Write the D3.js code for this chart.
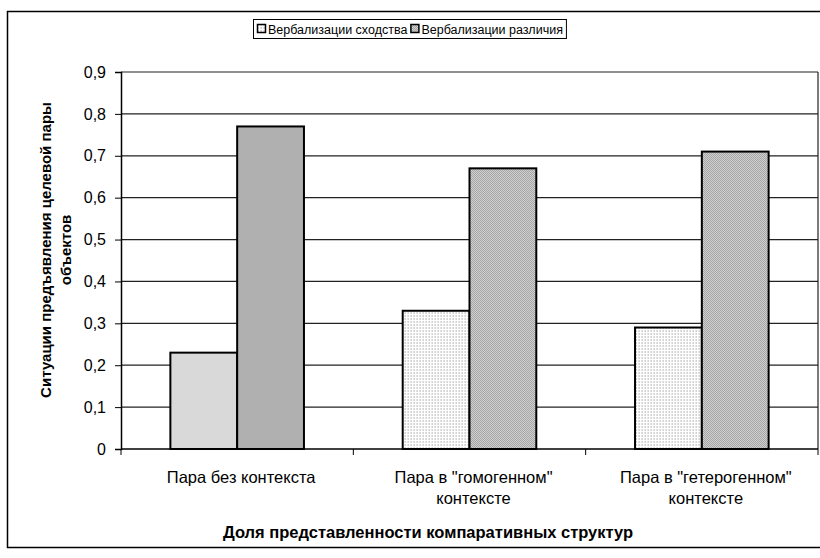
<!DOCTYPE html>
<html>
<head>
<meta charset="utf-8">
<script src="https://cdnjs.cloudflare.com/ajax/libs/d3/7.8.5/d3.min.js"></script>
<style>
body { margin: 0; background: #fff; }
text { font-family: "Liberation Sans", Arial, sans-serif; fill: #000; }
</style>
</head>
<body>
<div id="chart"></div>
<script>
var categories = [["Пара без контекста"], ["Пара в \"гомогенном\"", "контексте"], ["Пара в \"гетерогенном\"", "контексте"]];
var seriesNames = ["Вербализации сходства", "Вербализации различия"];
var similarity = [0.23, 0.33, 0.29];
var difference = [0.77, 0.67, 0.71];
var yTicks = [0, 0.1, 0.2, 0.3, 0.4, 0.5, 0.6, 0.7, 0.8, 0.9];
var yTitle = ["Ситуации предъявления целевой пары", "объектов"];
var xTitle = "Доля представленности компаративных структур";

var W = 820, H = 558;
var plot = {left: 121, right: 818, top: 72, bottom: 449};

var svg = d3.select("#chart").append("svg")
	.attr("width", W)
	.attr("height", H);

// patterns for the 2nd and 3rd groups
var defs = svg.append("defs");
var p1 = defs.append("pattern").attr("id", "dotsLight")
	.attr("patternUnits", "userSpaceOnUse").attr("width", 3).attr("height", 3);
p1.append("rect").attr("width", 3).attr("height", 3).attr("fill", "#ffffff");
p1.append("rect").attr("width", 1).attr("height", 2).attr("fill", "#d4d4d4");
p1.append("rect").attr("x", 2).attr("width", 1).attr("height", 2).attr("fill", "#e4e4e4");

var p2 = defs.append("pattern").attr("id", "checkDark")
	.attr("patternUnits", "userSpaceOnUse").attr("width", 2).attr("height", 2);
p2.append("rect").attr("width", 2).attr("height", 2).attr("fill", "#cfcfcf");
p2.append("rect").attr("width", 1).attr("height", 1).attr("fill", "#a6a6a6");
p2.append("rect").attr("x", 1).attr("y", 1).attr("width", 1).attr("height", 1).attr("fill", "#a6a6a6");

// outer chart border (right side runs off the picture)
svg.append("rect")
	.attr("x", 7.5).attr("y", 11.5)
	.attr("width", 900).attr("height", 536)
	.attr("fill", "none").attr("stroke", "#000").attr("stroke-width", 1.5);

var x0 = d3.scaleBand()
	.domain(d3.range(categories.length))
	.range([plot.left, plot.right])
	.paddingInner(0.425)
	.paddingOuter(0.2125);
var x1 = d3.scaleBand()
	.domain([0, 1])
	.range([0, x0.bandwidth()]);
var y = d3.scaleLinear()
	.domain([0, 0.9])
	.range([plot.bottom, plot.top]);

// gridlines
svg.append("g").selectAll("line")
	.data(yTicks.slice(1))
	.enter().append("line")
	.attr("x1", plot.left).attr("x2", plot.right)
	.attr("y1", function(d){ return y(d); })
	.attr("y2", function(d){ return y(d); })
	.attr("stroke", "#222").attr("stroke-width", 1.2);

// right border of plot area
svg.append("line")
	.attr("x1", plot.right).attr("x2", plot.right)
	.attr("y1", plot.top).attr("y2", plot.bottom)
	.attr("stroke", "#222").attr("stroke-width", 1.2);

// bars
var fills = [
	["#d9d9d9", "url(#dotsLight)", "url(#dotsLight)"],
	["#b0b0b0", "url(#checkDark)", "url(#checkDark)"]
];
var series = [similarity, difference];
series.forEach(function(vals, s){
	svg.append("g").selectAll("rect")
		.data(vals)
		.enter().append("rect")
		.attr("x", function(d, i){ return x0(i) + x1(s); })
		.attr("y", function(d){ return y(d); })
		.attr("width", x1.bandwidth())
		.attr("height", function(d){ return y(0) - y(d); })
		.attr("fill", function(d, i){ return fills[s][i]; })
		.attr("stroke", "#000")
		.attr("stroke-width", 2);
});

// y axis
var yAxis = d3.axisLeft(y)
	.tickValues(yTicks)
	.tickSize(6)
	.tickPadding(9)
	.tickFormat(function(d){ return d3.format(".1f")(d).replace(".", ",").replace(/^0,0$/, "0"); });
var gy = svg.append("g")
	.attr("transform", "translate(" + plot.left + ",0)")
	.call(yAxis);
gy.select(".domain").attr("stroke", "#000").attr("stroke-width", 1.5);
gy.selectAll(".tick line").attr("stroke", "#000");
gy.selectAll(".tick text").attr("font-size", 16).attr("font-family", "Liberation Sans, Arial, sans-serif");

// x axis
var step = x0.step();
var xTickPos = d3.range(categories.length + 1).map(function(i){ return plot.left + i * step; });
svg.append("line")
	.attr("x1", plot.left).attr("x2", plot.right)
	.attr("y1", plot.bottom).attr("y2", plot.bottom)
	.attr("stroke", "#000").attr("stroke-width", 1.5);
svg.append("g").selectAll("line")
	.data(xTickPos)
	.enter().append("line")
	.attr("x1", function(d){ return d; }).attr("x2", function(d){ return d; })
	.attr("y1", plot.bottom).attr("y2", plot.bottom + 6)
	.attr("stroke", "#000");

var lbl = svg.append("g").selectAll("text")
	.data(categories)
	.enter().append("text")
	.attr("text-anchor", "middle")
	.attr("font-size", 16.5)
	.attr("transform", function(d, i){ return "translate(" + (x0(i) + x0.bandwidth() / 2 + 4) + "," + 483 + ")"; });
lbl.selectAll("tspan")
	.data(function(d){ return d; })
	.enter().append("tspan")
	.attr("x", 0)
	.attr("dy", function(d, j){ return j == 0 ? 0 : 21; })
	.text(function(d){ return d; });

// axis titles
svg.append("text")
	.attr("x", 428).attr("y", 538)
	.attr("text-anchor", "middle")
	.attr("font-size", 16.5).attr("font-weight", "bold")
	.text(xTitle);

var yt = svg.append("text")
	.attr("transform", "translate(51,250) rotate(-90)")
	.attr("text-anchor", "middle")
	.attr("font-size", 15).attr("font-weight", "bold");
yt.selectAll("tspan")
	.data(yTitle)
	.enter().append("tspan")
	.attr("x", 0)
	.attr("dy", function(d, j){ return j == 0 ? 0 : 20; })
	.text(function(d){ return d; });

// legend
var legX = 253, legY = 19;
var leg = svg.append("g");
var legBox = leg.append("rect")
	.attr("x", legX + 0.5).attr("y", legY + 0.5)
	.attr("height", 19)
	.attr("fill", "#fff").attr("stroke", "#000");
var lx = legX + 4;
var legFills = ["url(#dotsLight)", "url(#checkDark)"];
seriesNames.forEach(function(name, s){
	leg.append("rect")
		.attr("x", lx + 0.5).attr("y", legY + 5.5)
		.attr("width", 8).attr("height", 8)
		.attr("fill", legFills[s]).attr("stroke", "#000").attr("stroke-width", 1.5);
	var t = leg.append("text")
		.attr("x", lx + 11).attr("y", legY + 14.5)
		.attr("font-size", 12.5)
		.text(name);
	lx = lx + 11 + t.node().getComputedTextLength() + 3;
});
legBox.attr("width", lx - legX);
</script>
</body>
</html>
